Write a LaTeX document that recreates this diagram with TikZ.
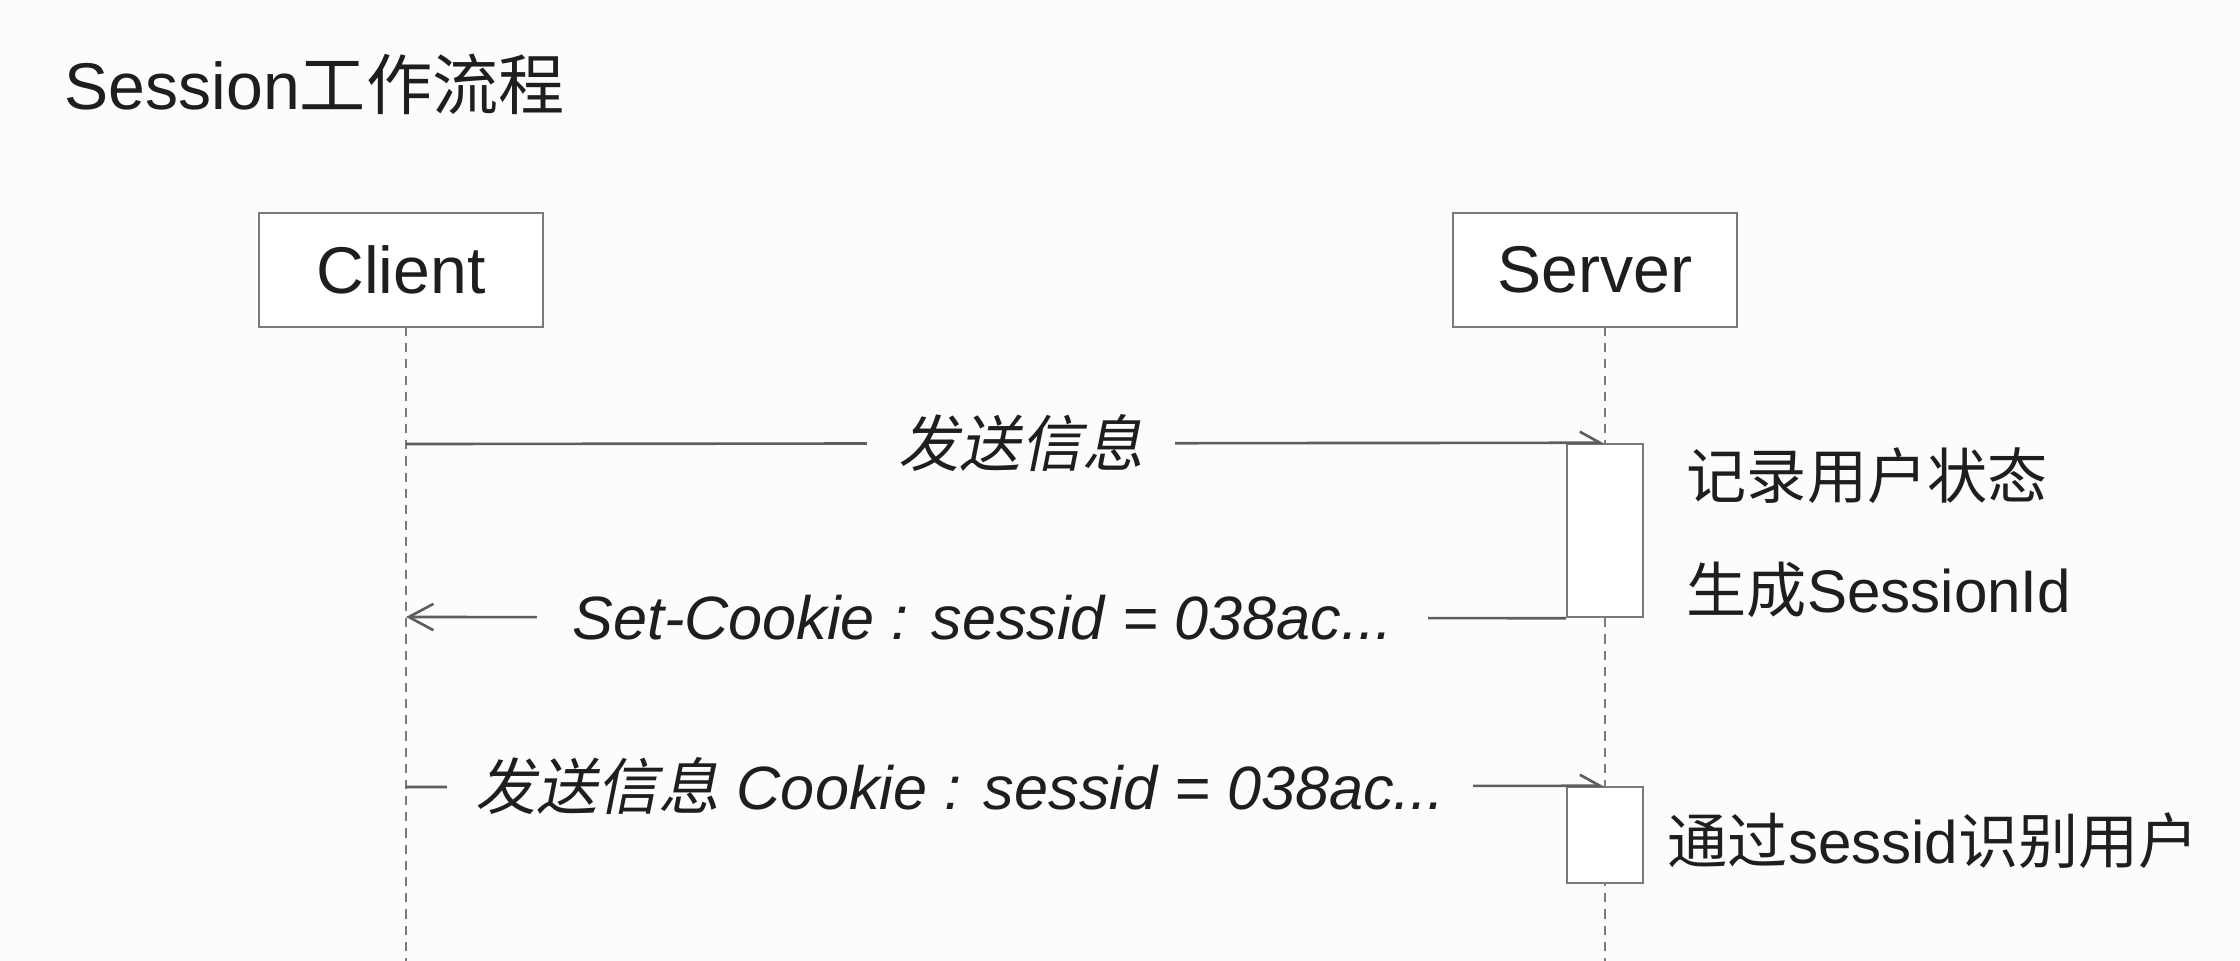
\documentclass[tikz,border=0pt]{standalone}
\usepackage{fontspec}
\setmainfont{Liberation Sans}
\newfontfamily\cjk{Noto Sans CJK SC}
\newfontfamily\cjkit[FakeSlant=0.2]{Noto Sans CJK SC}
\usetikzlibrary{arrows.meta}
\definecolor{linegray}{HTML}{5E5E5E}
\definecolor{boxgray}{HTML}{7A7A7A}
\definecolor{textblack}{HTML}{1E1E1E}
\definecolor{bgc}{HTML}{FCFCFC}
\tikzset{
  actor/.style={draw=boxgray, line width=0.7pt, fill=white, text=textblack,
    minimum width=80.8pt, minimum height=32.4pt, inner sep=0pt,
    font=\fontsize{18.8}{22}\selectfont},
  lifeline/.style={draw=boxgray, line width=0.5pt, dash pattern=on 2.6pt off 2pt},
  actbox/.style={draw=boxgray, line width=0.7pt, fill=white, minimum width=21.6pt, inner sep=0pt},
  msg/.style={draw=linegray, line width=0.75pt, -{Straight Barb[left, length=5.7pt, width=6.3pt]}},
  ret/.style={draw=linegray, line width=0.75pt, -{Straight Barb[length=7pt, width=7.5pt]}},
  msglabel/.style={fill=bgc, text=textblack, inner ysep=2pt,
    font=\fontsize{17.4}{20}\selectfont\itshape},
  note/.style={text=textblack, inner sep=0pt, anchor=west,
    font=\fontsize{17.1}{20}\selectfont},
}
\begin{document}
\begin{tikzpicture}[x=0.01cm,y=-0.01cm]
\useasboundingbox[fill=bgc] (0,0) rectangle (2240,961);

% title
\node[text=textblack, inner sep=0pt, anchor=west, font=\fontsize{18.8}{22}\selectfont]
  (title) at (64,84) {Session{\cjk 工作流程}};

% actors
\node[actor] (client) at (401,270) {Client};
\node[actor] (server) at (1595,270) {Server};

% lifeline ends
\coordinate (clTop) at (406,327);
\coordinate (clBot) at (406,961);
\coordinate (svTop) at (1605,327);
\coordinate (svBot) at (1605,961);
\draw[lifeline] (clTop) -- (clBot);
\draw[lifeline] (svTop) -- (svBot);

% activation boxes
\node[actbox, minimum height=49.2pt] (act1) at (1605,530.5) {};
\node[actbox, minimum height=27.3pt] (act2) at (1605,835) {};

% message start / end points on client lifeline
\coordinate (m1s) at (406,444);
\coordinate (m2e) at (406,617);
\coordinate (m3s) at (406,787);

\draw[msg] (m1s) -- node[msglabel, pos=0.513, inner xsep=9pt] (l1) {{\cjkit 发送信息}} (act1.north);
\draw[ret] (act1.south west) -- node[msglabel, pos=0.503, inner xsep=10pt] (l2) {Set-Cookie : sessid = 038ac...} (m2e);
\draw[msg] (m3s) -- node[msglabel, pos=0.462, inner xsep=8pt] (l3) {{\cjkit 发送信息} Cookie : sessid = 038ac...} (act2.north);

% notes
\node[note] (n1) at (1686,476) {\cjk 记录用户状态};
\node[note] (n2) at (1686,590) {{\cjk 生成}SessionId};
\node[note] (n3) at (1667,841) {{\cjk 通过}sessid{\cjk 识别用户}};
\end{tikzpicture}
\end{document}
